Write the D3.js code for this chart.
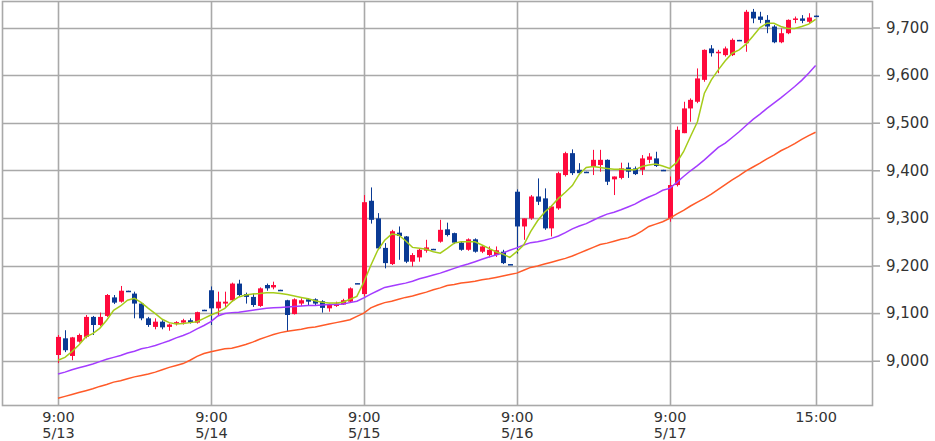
<!DOCTYPE html>
<html>
<head>
<meta charset="utf-8">
<script src="https://cdn.jsdelivr.net/npm/d3@7"></script>
<style>
  html, body { margin: 0; padding: 0; background: #fff; }
  svg { display: block; }
  text { font-family: "DejaVu Sans", sans-serif; font-size: 15px; fill: #333; }
</style>
</head>
<body>
<svg id="chart" width="935" height="441"></svg>
<script>
// ---- data (15-minute candles, 5/13 – 5/17) ----
const opens = [
  9012,9047,9010,9040,9050,9092,9075,9094,9133,9124,9147,9141,9120,9089,9071,9082,9071,9079,9080,9085,9080,9107,
  9148,9110,9120,9127,9162,9140,9134,9115,9159,9154,9149,9127,9098,9120,9129,9129,9125,9110,9115,9118,9124,9163,
  9140,9336,9299,9237,9203,9269,9261,9208,9217,9231,9235,9250,9276,9268,9248,9233,9255,9229,9222,9222,9229,9203,
  9355,9282,9299,9345,9341,9278,9320,9390,9436,9401,9397,9408,9411,9422,9381,9384,9406,9404,9401,9422,9425,9401,
  9299,9369,9478,9530,9544,9590,9656,9646,9642,9642,9674,9667,9733,9723,9716,9702,9669,9688,9716,9719,9712,9725
];
const highs = [
  9054,9064,9050,9057,9096,9094,9101,9140,9138,9157,9147,9145,9122,9092,9089,9085,9078,9083,9088,9089,9103,9107,
  9156,9145,9145,9164,9170,9143,9141,9154,9162,9166,9149,9128,9131,9131,9131,9131,9127,9120,9124,9130,9154,9163,
  9348,9364,9310,9247,9275,9282,9262,9226,9236,9254,9235,9296,9290,9269,9250,9257,9257,9243,9240,9240,9233,9203,
  9360,9299,9348,9383,9362,9327,9397,9439,9444,9415,9397,9443,9443,9423,9387,9416,9416,9408,9432,9436,9439,9401,
  9387,9492,9544,9551,9614,9654,9663,9653,9660,9677,9674,9737,9739,9733,9726,9705,9698,9717,9723,9726,9730,9725
];
const lows = [
  8995,9018,9001,9038,9047,9054,9073,9092,9119,9122,9146,9089,9085,9071,9066,9066,9063,9074,9076,9078,9078,9106,
  9075,9096,9113,9124,9134,9120,9113,9113,9147,9150,9148,9061,9097,9115,9117,9117,9101,9103,9113,9117,9122,9162,
  9135,9288,9234,9194,9201,9212,9205,9198,9208,9227,9234,9248,9261,9245,9231,9231,9227,9226,9217,9218,9203,9202,
  9225,9254,9296,9327,9275,9261,9317,9387,9390,9390,9396,9390,9397,9369,9348,9381,9384,9390,9390,9415,9407,9400,
  9292,9366,9478,9502,9541,9586,9639,9604,9639,9640,9673,9649,9709,9709,9688,9667,9667,9686,9709,9709,9709,9724
];
const closes = [
  9050,9022,9049,9054,9092,9075,9092,9138,9122,9147,9146,9120,9089,9075,9082,9070,9076,9081,9085,9080,9102,9106,
  9110,9124,9124,9162,9138,9134,9117,9152,9152,9159,9148,9096,9129,9127,9124,9120,9111,9117,9120,9127,9152,9162,
  9333,9296,9236,9205,9272,9262,9208,9222,9233,9238,9234,9275,9264,9248,9233,9255,9229,9240,9233,9232,9205,9202,
  9282,9299,9345,9334,9278,9324,9394,9436,9394,9394,9396,9422,9422,9376,9387,9404,9397,9392,9425,9429,9409,9400,
  9369,9485,9530,9548,9593,9653,9646,9649,9656,9674,9673,9733,9719,9716,9702,9669,9688,9716,9719,9714,9721,9724
];
const maShort = [
  9001,9007,9019,9033,9050,9057,9068,9085,9106,9115,9127,9131,9122,9110,9099,9087,9080,9077,9078,9080,9082,9089,
  9096,9102,9110,9124,9134,9138,9140,9141,9143,9143,9141,9139,9136,9133,9130,9126,9123,9121,9121,9123,9129,9135,
  9165,9200,9232,9253,9266,9264,9252,9238,9236,9234,9229,9226,9236,9247,9250,9250,9250,9243,9236,9229,9224,9217,
  9229,9243,9271,9294,9312,9325,9341,9354,9368,9392,9406,9408,9406,9404,9402,9402,9401,9401,9408,9411,9413,9409,
  9404,9416,9439,9471,9502,9562,9590,9611,9630,9646,9653,9665,9682,9700,9709,9709,9702,9698,9698,9702,9707,9717
];
const maMid = [
  8972,8976,8981,8985,8989,8993,8998,9003,9007,9011,9016,9020,9025,9028,9032,9037,9042,9048,9053,9059,9067,9074,
  9082,9094,9099,9101,9102,9104,9106,9108,9110,9111,9112,9113,9114,9115,9116,9116,9117,9118,9118,9119,9122,9125,
  9132,9140,9147,9154,9157,9160,9163,9167,9172,9176,9180,9184,9189,9194,9199,9203,9208,9213,9218,9222,9226,9232,
  9237,9243,9248,9250,9253,9257,9262,9269,9277,9283,9288,9295,9302,9308,9312,9317,9323,9329,9337,9344,9350,9358,
  9362,9374,9387,9399,9410,9422,9435,9448,9457,9469,9481,9494,9507,9518,9530,9541,9552,9564,9576,9589,9604,9620
];
const maLong = [
  8921,8925,8929,8933,8937,8941,8946,8950,8955,8958,8962,8966,8969,8972,8976,8981,8986,8990,8994,9001,9009,9015,
  9019,9022,9025,9026,9030,9034,9039,9045,9050,9055,9059,9062,9064,9066,9069,9071,9074,9077,9080,9083,9086,9093,
  9100,9111,9117,9122,9125,9129,9133,9136,9140,9144,9149,9153,9158,9160,9163,9165,9167,9170,9172,9175,9178,9181,
  9184,9190,9196,9199,9203,9207,9211,9215,9220,9226,9232,9238,9244,9247,9251,9255,9258,9264,9272,9282,9287,9292,
  9299,9308,9316,9325,9333,9341,9350,9360,9370,9380,9389,9399,9407,9415,9424,9432,9441,9448,9456,9465,9473,9480
];
const xTickIndex = [0, 22, 44, 66, 88, 109];
const timeLabels = ["9:00", "9:00", "9:00", "9:00", "9:00", "15:00"];
const dateLabels = ["5/13", "5/14", "5/15", "5/16", "5/17", ""];
const yTicks = [9000, 9100, 9200, 9300, 9400, 9500, 9600, 9700];

// ---- layout ----
const plot = { left: 2, right: 872, top: 1, bottom: 405 };
const svg = d3.select("#chart");

const x = d3.scaleLinear().domain([0, 109]).range([58, 815.6]);
const y = d3.scaleLinear().domain([9000, 9700]).range([360.7, 27.5]);

const gridColor = "#a9a9a9";
const g = svg.append("g");

// frame
g.append("rect")
  .attr("x", plot.left + 0.5).attr("y", plot.top + 0.5)
  .attr("width", plot.right - plot.left).attr("height", plot.bottom - plot.top)
  .attr("fill", "none").attr("stroke", gridColor).attr("stroke-width", 1.6);

// horizontal grid
g.selectAll("line.hg").data(yTicks).enter().append("line")
  .attr("x1", plot.left).attr("x2", plot.right)
  .attr("y1", d => Math.round(y(d)) + 0.5).attr("y2", d => Math.round(y(d)) + 0.5)
  .attr("stroke", gridColor).attr("stroke-width", 1.6);

// vertical grid
g.selectAll("line.vg").data(xTickIndex).enter().append("line")
  .attr("x1", d => Math.round(x(d)) + 0.5).attr("x2", d => Math.round(x(d)) + 0.5)
  .attr("y1", plot.top).attr("y2", plot.bottom)
  .attr("stroke", gridColor).attr("stroke-width", 1.6);

// right axis
const yAxis = d3.axisRight(y).tickValues(yTicks).tickSize(8).tickPadding(6)
  .tickFormat(d3.format(","));
const ya = svg.append("g").attr("transform", `translate(${plot.right},0)`).call(yAxis);
ya.select(".domain").remove();
ya.selectAll(".tick line").attr("stroke", gridColor).attr("stroke-width", 1.6);
ya.selectAll(".tick text").attr("fill", "#333").style("font-size", "15px")
  .style("font-family", "DejaVu Sans, sans-serif");

// bottom axis (two-line labels)
const xAxis = d3.axisBottom(x).tickValues(xTickIndex).tickSize(0).tickPadding(0).tickFormat(() => "");
const xa = svg.append("g").attr("transform", `translate(0,${plot.bottom})`).call(xAxis);
xa.select(".domain").remove();
xa.selectAll(".tick").each(function(d, i) {
  const t = d3.select(this).select("text").attr("y", 0).attr("dy", null)
    .attr("fill", "#333").style("font-size", "14.5px").style("font-family", "DejaVu Sans, sans-serif");
  t.append("tspan").attr("x", 0).attr("y", 17).text(timeLabels[i]);
  t.append("tspan").attr("x", 0).attr("y", 33).text(dateLabels[i]);
});

// candles
const upColor = "#ff0a3c", downColor = "#0a3a94";
const candles = svg.append("g");
const idx = d3.range(opens.length);
candles.selectAll("line.wick").data(idx).enter().append("line")
  .attr("x1", i => Math.round(x(i)) + 0.5).attr("x2", i => Math.round(x(i)) + 0.5)
  .attr("y1", i => y(highs[i])).attr("y2", i => y(lows[i]))
  .attr("stroke", i => closes[i] > opens[i] ? upColor : downColor).attr("stroke-width", 1);
candles.selectAll("rect.body").data(idx).enter().append("rect")
  .attr("x", i => Math.round(x(i)) - 2)
  .attr("width", 5)
  .attr("y", i => y(Math.max(opens[i], closes[i])))
  .attr("height", i => Math.max(1.5, Math.abs(y(opens[i]) - y(closes[i]))))
  .attr("fill", i => closes[i] > opens[i] ? upColor : downColor);

// moving averages
const line = d3.line().x((d, i) => x(i)).y(d => y(d));
[[maLong, "#ff5a28"], [maMid, "#a43cff"], [maShort, "#a5cc1a"]].forEach(([arr, col]) => {
  svg.append("path").datum(arr).attr("d", line)
    .attr("fill", "none").attr("stroke", col).attr("stroke-width", 1.5);
});
</script>
</body>
</html>
